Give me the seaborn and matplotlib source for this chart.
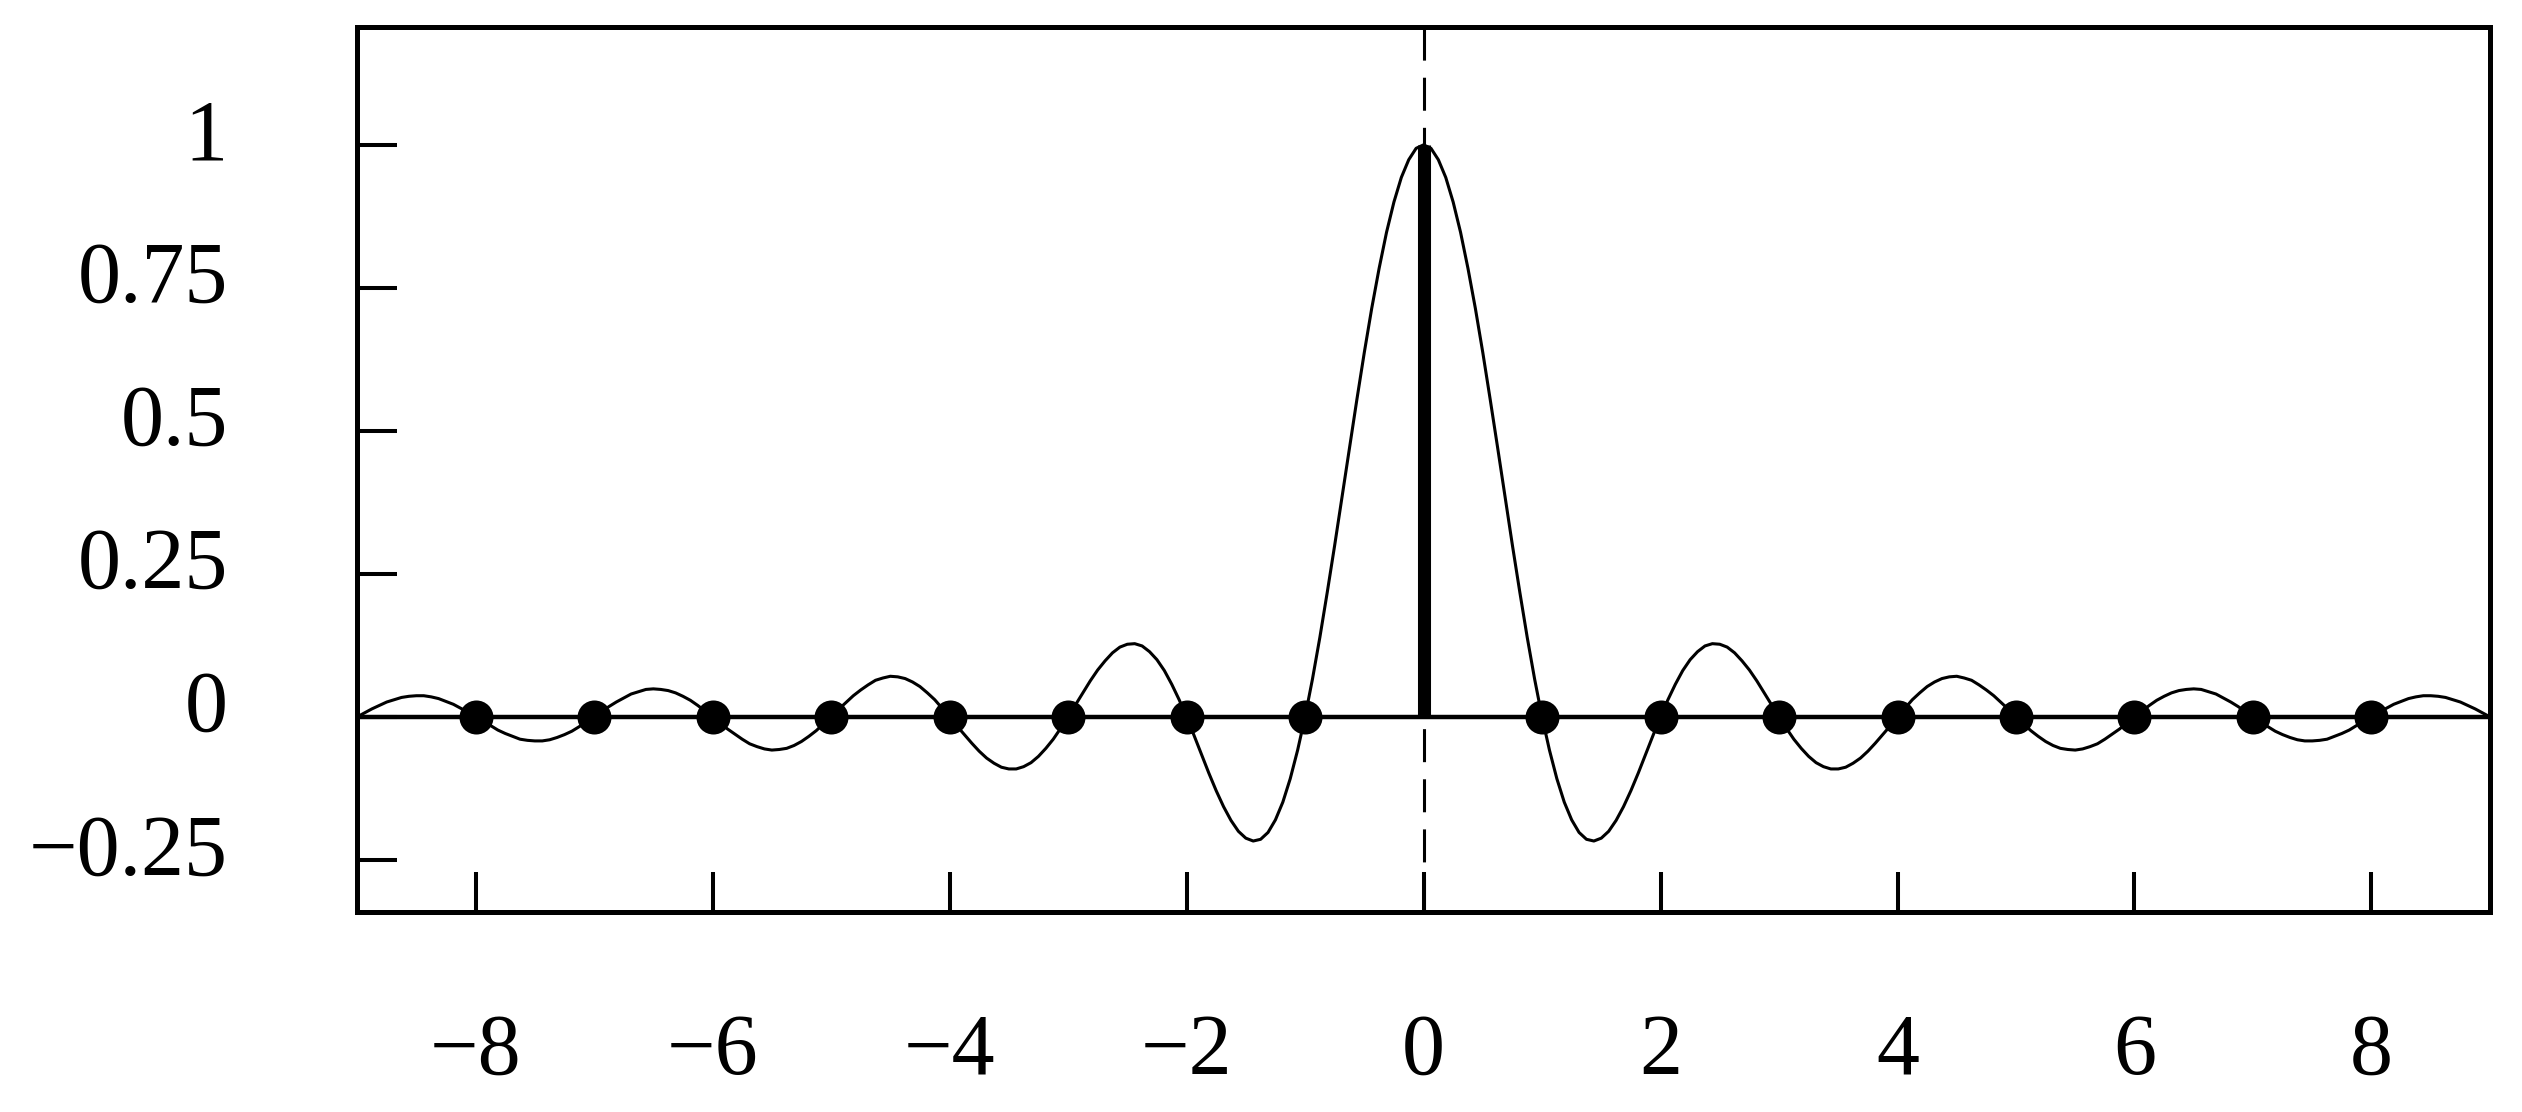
# sinc curve with its samples at the integers

import numpy as np
import pandas as pd
import matplotlib
matplotlib.use('Agg')
import matplotlib.pyplot as plt
import matplotlib.transforms as mtrans
import seaborn as sns

# curve values, x from 0 to 9 in steps of 1/16
curve_right = [1.000, 0.994, 0.974, 0.943, 0.900, 0.847, 0.784, 0.714,
               0.637, 0.555, 0.471, 0.385, 0.300, 0.218, 0.139, 0.066,
               0.000, -0.058, -0.108, -0.149, -0.180, -0.202, -0.214, -0.217,
               -0.212, -0.200, -0.181, -0.157, -0.129, -0.098, -0.065, -0.032,
               0.000, 0.030, 0.057, 0.081, 0.100, 0.114, 0.124, 0.128,
               0.127, 0.122, 0.112, 0.098, 0.082, 0.063, 0.042, 0.021,
               0.000, -0.020, -0.039, -0.055, -0.069, -0.080, -0.087, -0.091,
               -0.091, -0.088, -0.081, -0.072, -0.060, -0.046, -0.031, -0.016,
               0.000, 0.015, 0.030, 0.042, 0.053, 0.061, 0.067, 0.070,
               0.071, 0.068, 0.064, 0.056, 0.047, 0.037, 0.025, 0.013,
               0.000, -0.012, -0.024, -0.034, -0.043, -0.050, -0.055, -0.057,
               -0.058, -0.056, -0.052, -0.047, -0.039, -0.030, -0.021, -0.010,
               0.000, 0.010, 0.020, 0.029, 0.036, 0.042, 0.046, 0.048,
               0.049, 0.048, 0.044, 0.040, 0.033, 0.026, 0.018, 0.009,
               0.000, -0.009, -0.017, -0.025, -0.031, -0.036, -0.040, -0.042,
               -0.042, -0.041, -0.039, -0.034, -0.029, -0.023, -0.015, -0.008,
               0.000, 0.008, 0.015, 0.022, 0.027, 0.032, 0.035, 0.037,
               0.037, 0.036, 0.034, 0.030, 0.026, 0.020, 0.014, 0.007,
               0.000]
# the picture is mirror symmetric about x = 0
curve_y = curve_right[:0:-1] + curve_right
curve_x = np.arange(-144, 145) / 16

# samples at the integers
sample_x = [-8, -7, -6, -5, -4, -3, -2, -1, 0, 1, 2, 3, 4, 5, 6, 7, 8]
sample_y = [0, 0, 0, 0, 0, 0, 0, 0, 1, 0, 0, 0, 0, 0, 0, 0, 0]

xtick_vals = [-8, -6, -4, -2, 0, 2, 4, 6, 8]
ytick_vals = [-0.25, 0, 0.25, 0.5, 0.75, 1]
ytick_labels = ['\u22120.25', '0', '0.25', '0.5', '0.75', '1']

curve = pd.DataFrame({'x': curve_x, 'y': curve_y})
samples = pd.DataFrame({'x': sample_x, 'y': sample_y})
stem = samples[samples['y'] != 0]
dots = samples[samples['y'] == 0]

sns.set_style('ticks')
plt.rcParams['font.family'] = ['Liberation Serif', 'DejaVu Serif']
plt.rcParams['axes.unicode_minus'] = True

fig = plt.figure(figsize=(25.22, 11.12), dpi=100)
ax = fig.add_axes([0.1416, 0.1799, 0.8457, 0.7958])

ax.axvline(0, color='black', lw=2.2, linestyle=(0, (10.8, 5.6)), zorder=1)
sns.lineplot(data=curve, x='x', y='y', color='black', linewidth=2.2,
             estimator=None, ax=ax, zorder=2, solid_joinstyle='round')
ax.axhline(0, color='black', lw=3.2, zorder=3)
ax.vlines(stem['x'], 0, stem['y'], color='black', lw=9.4, zorder=4)
sns.scatterplot(data=dots, x='x', y='y', s=600, color='black',
                edgecolor='black', linewidth=0, ax=ax, zorder=5)

ax.set_xlim(-9, 9)
ax.set_ylim(-0.341, 1.206)
ax.set_xticks(xtick_vals)
ax.set_yticks(ytick_vals)
ax.set_yticklabels(ytick_labels)
ax.set_xlabel('')
ax.set_ylabel('')

ax.tick_params(direction='in', length=29, width=2.9, labelsize=62, colors='black')
ax.tick_params(axis='x', pad=73)
ax.tick_params(axis='y', pad=93)
for sp in ax.spines.values():
    sp.set_linewidth(3.6)
    sp.set_color('black')

# y labels sit a little above their ticks in the reference
shift = mtrans.ScaledTranslation(0, 0.16, fig.dpi_scale_trans)
for lab in ax.get_yticklabels():
    lab.set_transform(lab.get_transform() + shift)

fig.savefig('out.png', dpi=100)
